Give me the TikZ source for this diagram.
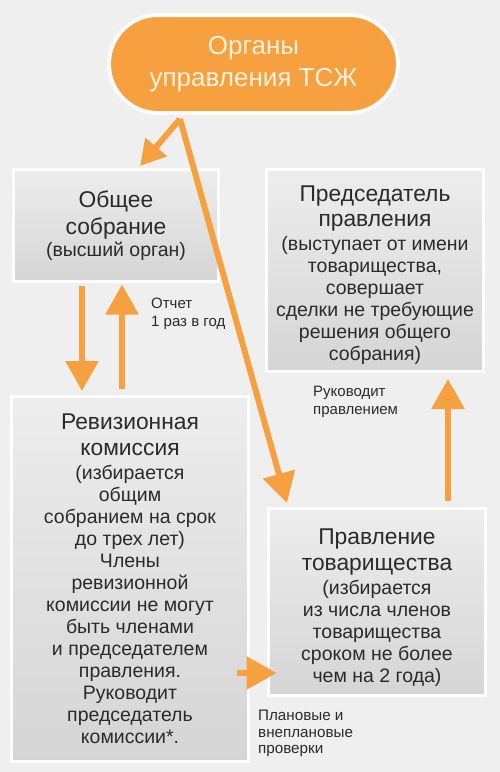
\documentclass[tikz,border=0pt]{standalone}
\usepackage{fontspec}
\setmainfont{Liberation Sans}
\usetikzlibrary{arrows.meta,calc}
\definecolor{bg}{HTML}{EFEFEF}
\definecolor{org}{HTML}{F6A03F}
\definecolor{txt}{HTML}{2A2A2A}
\definecolor{boxtop}{HTML}{EDEDED}
\definecolor{boxbot}{HTML}{D5D5D5}
\definecolor{ovtxt}{HTML}{FFF2DE}
\newcommand\headf{\fontsize{22.8}{22}\selectfont}
\newcommand\bodyf{\fontsize{19.5}{22}\selectfont}
\begin{document}
\begin{tikzpicture}[x=1pt,y=-1pt,
  box/.style={draw=white, line width=3pt, top color=boxtop, bottom color=boxbot,
    inner sep=0pt, align=center, text=txt, font=\bodyf},
  lab/.style={font=\fontsize{15}{18}\selectfont, text=txt, align=left, inner sep=0pt},
  arr/.style={draw=org, line width=6pt, -{Triangle[width=32pt,length=30pt]}},
  arrs/.style={draw=org, line width=6pt, -{Triangle[width=27pt,length=25pt]}}]
\fill[bg] (0,0) rectangle (500,772);
\useasboundingbox (0,0) rectangle (500,772);
% oval
\node (oval) [draw=white!97!gray, line width=4pt, fill=org, rounded corners=49pt,
  minimum width=289pt, minimum height=98pt, inner sep=0pt, align=center, text=ovtxt,
  font=\fontsize{26}{32}\selectfont] at (253.5,64) {Органы\\управления ТСЖ};
% boxes
\node (obs) [box, minimum width=205pt, minimum height=112pt] at (116,225.5)
  {\headf Общее\\[5pt]\headf собрание\\[0pt](высший орган)};
\node (pred) [box, minimum width=217pt, minimum height=202pt] at (375,270.5)
  {\headf\rule{0pt}{25pt}Председатель\\[3pt]\headf правления\\[2pt](выступает от имени\\товарищества,\\совершает\\сделки не требующие\\решения общего\\собрания)};
\node (rev) [box, minimum width=237pt, minimum height=365pt] at (130,579)
  {\headf Ревизионная\\[4pt]\headf комиссия\\[2pt](избирается\\общим\\собранием на срок\\до трех лет)\\Члены\\ревизионной\\комиссии не могут\\быть членами\\и председателем\\правления.\\Руководит\\председатель\\комиссии*.};
\node (prav) [box, minimum width=217pt, minimum height=187pt] at (377,602)
  {\headf\rule{0pt}{26.5pt}Правление\\[4pt]\headf товарищества\\[2pt](избирается\\из числа членов\\товарищества\\сроком не более\\чем на 2 года)};
% labels
\node (l1) [lab, anchor=west] at (151,314) {Отчет\\1 раз в год};
\node (l2) [lab, anchor=west] at (313,401.5) {Руководит\\правлением};
\node (l3) [lab, anchor=west, font=\fontsize{15.2}{16.5}\selectfont] at (258,733.5) {Плановые и\\внеплановые\\проверки};
% connectors
\coordinate (src) at ([xshift=-73.5pt,yshift=-4pt]oval.south);
\draw[arrs] (src) -- ([xshift=24pt,yshift=2pt]obs.north);
\draw[arr] (src) -- ([xshift=20pt,yshift=4pt]prav.north west);
\coordinate (d1) at ([xshift=-34pt]obs.south);
\draw[arr, shorten <=3pt, shorten >=4pt] (d1) -- (d1 |- rev.north);
\coordinate (u1) at ([xshift=6pt]obs.south);
\draw[arr, shorten <=6pt, shorten >=1.5pt] (u1 |- rev.north) -- (u1);
\coordinate (u2) at ([xshift=71pt]prav.north);
\draw[arr, shorten <=6pt, shorten >=6pt] (u2) -- (u2 |- pred.south);
\coordinate (rs) at ([xshift=-13pt,yshift=-94pt]rev.east);
\coordinate (rt) at ([xshift=9.5pt]prav.west);
\draw[arr] (rs) -- (rs -| rt);
\end{tikzpicture}
\end{document}
